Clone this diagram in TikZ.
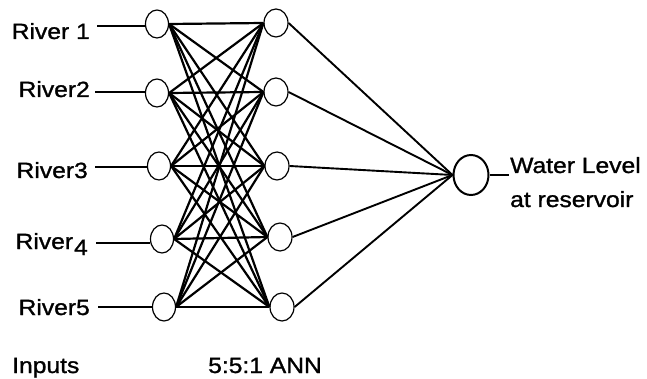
\documentclass[tikz,border=0pt]{standalone}
\usepackage{fontspec}
\usetikzlibrary{shapes.geometric}
\setmainfont[FakeStretch=1.12,FakeBold=1.2]{Liberation Sans}
\begin{document}
\begin{tikzpicture}[x=1pt,y=-1pt,
  lbl/.style={inner sep=0pt,font=\fontsize{22}{33}\selectfont},
  inode/.style={draw,ellipse,fill=white,line width=1.2pt,minimum width=23pt,minimum height=28pt,inner sep=0pt},
  onode/.style={draw,ellipse,fill=white,line width=2pt,minimum width=35pt,minimum height=40pt,inner sep=0pt},
  wire/.style={line width=2.2pt},
  owire/.style={line width=1.9pt},
  lwire/.style={line width=2.8pt}]
\useasboundingbox (0,0) rectangle (647,379);
% input and hidden circles
\node[inode] (i1) at (157,24) {};
\node[inode] (i2) at (157,93) {};
\node[inode] (i3) at (159,166) {};
\node[inode] (i4) at (162,239) {};
\node[inode] (i5) at (164,307) {};
\node[inode,minimum width=24pt] (h1) at (276,23) {};
\node[inode,minimum width=24pt] (h2) at (276,92) {};
\node[inode,minimum width=24pt] (h3) at (277,166) {};
\node[inode,minimum width=24pt] (h4) at (280,237) {};
\node[inode,minimum width=24pt] (h5) at (282,307) {};
\node[onode] (o) at (471,175) {};
% labels
\node[lbl,anchor=base east] (r1) at (90,39) {River 1};
\node[lbl,anchor=base east] (r2) at (90,97) {River2};
\node[lbl,anchor=base east] (r3) at (88,178) {River3};
\node[lbl,anchor=base east] (r4) at (88,249) {River\kern1pt\raisebox{-6pt}{4}};
\node[lbl,anchor=base east] (r5) at (90,315) {River5};
\node[lbl,anchor=base west] (inp) at (12,373) {Inputs};
\node[lbl,anchor=base west] (ann) at (208,373) {5:5:1 ANN};
\node[lbl,anchor=base west] (wl1) at (510,173) {Water Level};
\node[lbl,anchor=base west] (wl2) at (510,207) {at reservoir};
% label lines
\coordinate (l1) at (97,26);
\coordinate (l2) at (95,92);
\coordinate (l3) at (95,167);
\coordinate (l4) at (96,243);
\coordinate (l5) at (98,307);
\draw[lwire] (l1) -- (l1 -| i1.west);
\draw[lwire] (l2) -- (l2 -| i2.west);
\draw[lwire] (l3) -- (l3 -| i3.west);
\draw[lwire] (l4) -- (l4 -| i4.west);
\draw[lwire] (l5) -- (l5 -| i5.west);
% input to hidden
\foreach \a in {1,...,5}{
  \foreach \b in {1,...,5}{
    \draw[wire] (i\a.east) -- (h\b.west);
  }
}
% hidden to output
\foreach \b in {1,...,5}{
  \draw[owire] (h\b.east) -- (o.west);
}
\coordinate (oe) at (509,175);
\draw[owire,line width=2.4pt] (o.east) -- (oe);
\end{tikzpicture}
\end{document}
